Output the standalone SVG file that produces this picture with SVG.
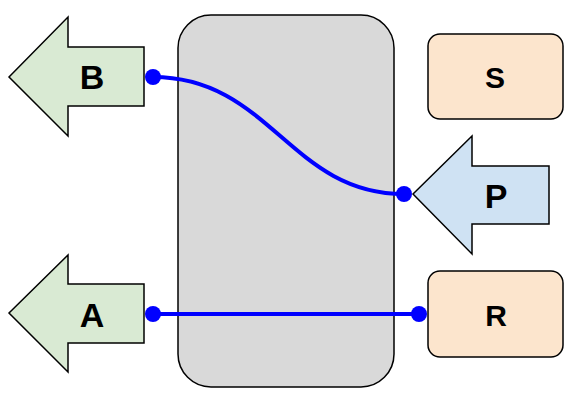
<svg xmlns="http://www.w3.org/2000/svg" width="576" height="402" viewBox="0 0 576 402">
<style>
.shape{stroke:#000;stroke-width:1.5;stroke-linejoin:miter}
.green{fill:#d9ead3}
.blue{fill:#cfe2f3}
.orange{fill:#fce5cd}
.gray{fill:#d9d9d9}
.lbl{font-family:"Liberation Sans",Arial,sans-serif;font-weight:bold;font-size:34px;fill:#000;text-anchor:middle;dominant-baseline:central}
.lbl2{font-size:30px}
.wire{fill:none;stroke:#0000ff;stroke-width:4}
.dot{fill:#0000ff}
</style>
<rect width="576" height="402" fill="#fff"/>
<g id="center">
<rect class="shape gray" x="178" y="15" width="216" height="372" rx="33" ry="33"/>
</g>
<g id="B">
<polygon class="shape green" points="9,77 68,17 68,47 144,47 144,106 68,106 68,136"/>
<text class="lbl" x="92" y="77">B</text>
</g>
<g id="A">
<polygon class="shape green" points="9,313 68,255 68,284 144,284 144,343 68,343 68,372"/>
<text class="lbl" x="92" y="315">A</text>
</g>
<g id="P">
<polygon class="shape blue" points="413,194 472,136 472,166 549,166 549,224 472,224 472,254"/>
<text class="lbl" x="496" y="196">P</text>
</g>
<g id="S">
<rect class="shape orange" x="428" y="34" width="135" height="85" rx="12" ry="12"/>
<text class="lbl lbl2" x="495" y="77">S</text>
</g>
<g id="R">
<rect class="shape orange" x="428" y="271" width="135" height="86" rx="12" ry="12"/>
<text class="lbl lbl2" x="496" y="315">R</text>
</g>
<g id="connectors">
<path class="wire" d="M153,77 C270,77 290,194 404,194"/>
<path class="wire" d="M153,314 L419,314"/>
<circle class="dot" cx="153" cy="77" r="8"/>
<circle class="dot" cx="404" cy="194" r="8"/>
<circle class="dot" cx="153" cy="314" r="8"/>
<circle class="dot" cx="419" cy="314" r="8"/>
</g>
</svg>
